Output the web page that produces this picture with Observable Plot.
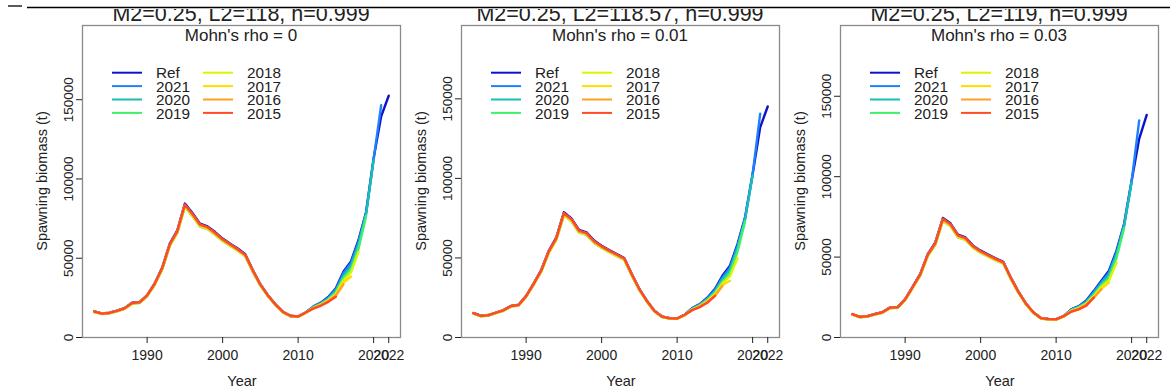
<!DOCTYPE html>
<html><head><meta charset="utf-8">
<script src="https://cdn.jsdelivr.net/npm/d3@7"></script>
<script src="https://cdn.jsdelivr.net/npm/@observablehq/plot@0.6"></script>
<style>
body{margin:0;background:#fff;}
#wrap{position:relative;width:1170px;height:392px;overflow:hidden;background:#fff;}
.panel{position:absolute;top:0;}
.panel svg{overflow:visible;}
#overlay{position:absolute;left:0;top:0;}
</style></head><body><div id="wrap"></div>
<script>
const FONT = '"Liberation Sans", Arial, Helvetica, sans-serif';

// ---- data ----
const years = d3.range(1983, 2023);
const runs = ["Ref", "2021", "2020", "2019", "2018", "2017", "2016", "2015"];
const runEnd = [2022, 2021, 2020, 2019, 2018, 2017, 2016, 2015];
const runColors = ["#0d12c8", "#1f80ff", "#19bdb6", "#3ff06c", "#d9f500", "#ffdc00", "#ffa024", "#ff4a24"];
// relative level of each run over 1983-2010 (the thin rainbow fringe)
const histLevel = [1.0, 0.99, 0.985, 0.975, 0.978, 0.982, 0.988, 0.993];

const titles = ["M2=0.25, L2=118, h=0.999", "M2=0.25, L2=118.57, h=0.999", "M2=0.25, L2=119, h=0.999"];
const subtitles = ["Mohn's rho = 0", "Mohn's rho = 0.01", "Mohn's rho = 0.03"];
const yTop = [196800, 196100, 194000];
const yTicks = [0, 50000, 100000, 150000];
const xTicks = [1990, 2000, 2010, 2020, 2022];
const xLabel = "Year";
const yLabel = "Spawning biomass (t)";

// Ref 1983-2010
const p1RefHist = [16500, 15200, 15600, 16900, 18500, 21900, 22300, 26700, 34100, 44100, 59200, 67600, 84500, 78500, 71800, 70100, 66500, 62400, 59200, 56100, 52500, 42500, 33600, 26700, 20900, 16200, 13700, 13300];
const p2RefHist = [15400, 13700, 14100, 15700, 17200, 19900, 20600, 26200, 34000, 42400, 54500, 62900, 78700, 74900, 67600, 66100, 60900, 57700, 55000, 52500, 50000, 39900, 30500, 23100, 16800, 13200, 12200, 12000];
const p3RefHist = [14600, 12900, 13300, 14600, 15800, 18700, 18900, 23900, 31600, 39500, 51900, 59100, 74300, 71000, 63900, 62200, 57100, 54000, 51500, 49200, 47100, 37300, 28600, 21200, 15600, 12100, 11500, 11400];

// 2011 .. end year of each run
const p1Tails = [
  [15800, 19500, 22000, 25500, 31000, 41500, 48000, 61500, 79000, 113000, 139500, 152500],
  [15800, 19300, 21800, 25000, 30500, 40500, 47000, 60500, 78500, 112500, 146500],
  [15700, 19000, 21500, 24500, 29500, 39000, 45000, 58500, 77500, 112000],
  [15600, 18800, 21000, 24000, 28500, 37500, 43000, 56000, 76500],
  [15500, 18600, 20800, 23500, 27500, 36000, 41000, 54000],
  [15500, 18400, 20500, 23200, 27000, 34500, 38500],
  [15600, 18400, 20500, 23000, 26500, 33500],
  [15800, 18200, 20000, 22500, 25700]
];
const p2Tails = [
  [14300, 18500, 21000, 25000, 30400, 38800, 45100, 58700, 75500, 102800, 132100, 145200],
  [14300, 18300, 20800, 24600, 29800, 37800, 44000, 57800, 75000, 102500, 140600],
  [14200, 18000, 20400, 24000, 29000, 36500, 42500, 56000, 74000, 102000],
  [14100, 17800, 20000, 23400, 28000, 35000, 40500, 54000, 73000],
  [14000, 17600, 19800, 23000, 27200, 34000, 38500, 50000],
  [14000, 17400, 19500, 22700, 26500, 33000, 35700],
  [14100, 17300, 19400, 22500, 26000, 32500],
  [14300, 17200, 19100, 21800, 26200]
];
const p3Tails = [
  [13300, 17500, 19500, 23000, 29000, 35300, 41500, 54000, 70600, 97500, 123500, 138400],
  [13300, 17300, 19300, 22600, 28400, 34500, 40500, 53000, 70000, 97000, 134900],
  [13200, 17000, 19000, 22000, 27500, 33500, 39000, 51500, 69000, 96500],
  [13100, 16800, 18600, 21500, 26500, 32500, 37000, 49500, 68000],
  [13000, 16600, 18300, 21000, 25800, 31500, 35500, 46500],
  [13000, 16400, 18000, 20700, 25200, 30500, 34200],
  [13100, 16200, 17800, 20500, 24800, 30000],
  [13300, 16000, 17500, 19800, 24900]
];

const panelHist = [p1RefHist, p2RefHist, p3RefHist];
const panelTails = [p1Tails, p2Tails, p3Tails];

// ---- layout ----
const svgLeft = [20, 399, 778];
const W = 380, H = 392, mL = 62, mR = 0, mT = 25, mB = 55;
const wrap = document.getElementById("wrap");

function seriesFor(p, k) {
  const hist = panelHist[p], tail = panelTails[p][k];
  const out = [];
  years.forEach((yr, i) => {
    if (yr > runEnd[k]) return;
    const v = yr <= 2010 ? hist[i] * histLevel[k] : tail[yr - 2011];
    out.push({year: yr, value: v, run: runs[k]});
  });
  return out;
}

for (let p = 0; p < 3; p++) {
  const chart = Plot.plot({
    width: W, height: H, marginLeft: mL, marginRight: mR, marginTop: mT, marginBottom: mB,
    style: {fontFamily: FONT, fontSize: "14px", color: "#222", background: "transparent", overflow: "visible"},
    x: {domain: [1981.44, 2023.56]},
    y: {domain: [0, yTop[p]]},
    marks: [
      Plot.frame({stroke: "#8a8a8a", strokeWidth: 1.3}),
      Plot.axisX({ticks: xTicks, tickFormat: d => String(d), tickSize: 6, tickPadding: 7, label: null, fontSize: 14}),
      Plot.axisY({ticks: yTicks, tickFormat: d => String(d), tickRotate: -90, tickSize: 6, tickPadding: 4, label: null, fontSize: 13.5}),
      ...runs.map((r, k) => Plot.line(seriesFor(p, k), {x: "year", y: "value", stroke: runColors[k], strokeWidth: 2.4}))
    ]
  });
  const div = document.createElement("div");
  div.className = "panel";
  div.style.left = svgLeft[p] + "px";
  div.appendChild(chart);
  wrap.appendChild(div);
}

// ---- overlay texts (titles, legend, axis titles) ----
const ov = d3.select(wrap).append("svg").attr("id", "overlay")
  .attr("width", 1170).attr("height", 392)
  .style("font-family", FONT).style("fill", "#222");

for (let p = 0; p < 3; p++) {
  const bx = svgLeft[p] + mL;               // plot box left
  const cx = bx + (W - mL - mR) / 2;        // plot box centre
  ov.append("text").attr("x", cx).attr("y", 20.7).attr("text-anchor", "middle")
    .style("font-size", "21.5px").text(titles[p]);
  ov.append("text").attr("x", cx).attr("y", 40.5).attr("text-anchor", "middle")
    .style("font-size", "17px").text(subtitles[p]);
  ov.append("text").attr("x", cx + 1).attr("y", 386).attr("text-anchor", "middle")
    .style("font-size", "14.5px").text(xLabel);
  ov.append("text").attr("transform", `translate(${bx - 35},181) rotate(-90)`).attr("text-anchor", "middle")
    .style("font-size", "14.5px").text(yLabel);
  // legend, two columns of four
  runs.forEach((r, k) => {
    const col = Math.floor(k / 4), row = k % 4;
    const lx = bx + 30 + col * 91;
    const ly = 72.7 + row * 13.4;
    ov.append("line").attr("x1", lx).attr("x2", lx + 30).attr("y1", ly).attr("y2", ly)
      .attr("stroke", runColors[k]).attr("stroke-width", 2);
    ov.append("text").attr("x", lx + 44).attr("y", ly + 5.6)
      .style("font-size", "15.3px").text(r);
  });
}
// cropped top edge of the original figure
ov.append("rect").attr("x", 0).attr("y", 0).attr("width", 1170).attr("height", 9).attr("fill", "#fff");
ov.append("line").attr("x1", 27).attr("x2", 1170).attr("y1", 7.5).attr("y2", 7.5).attr("stroke", "#000").attr("stroke-width", 1.3);
ov.append("line").attr("x1", 8).attr("x2", 22).attr("y1", 6).attr("y2", 6).attr("stroke", "#000").attr("stroke-width", 1.3);
</script></body></html>
